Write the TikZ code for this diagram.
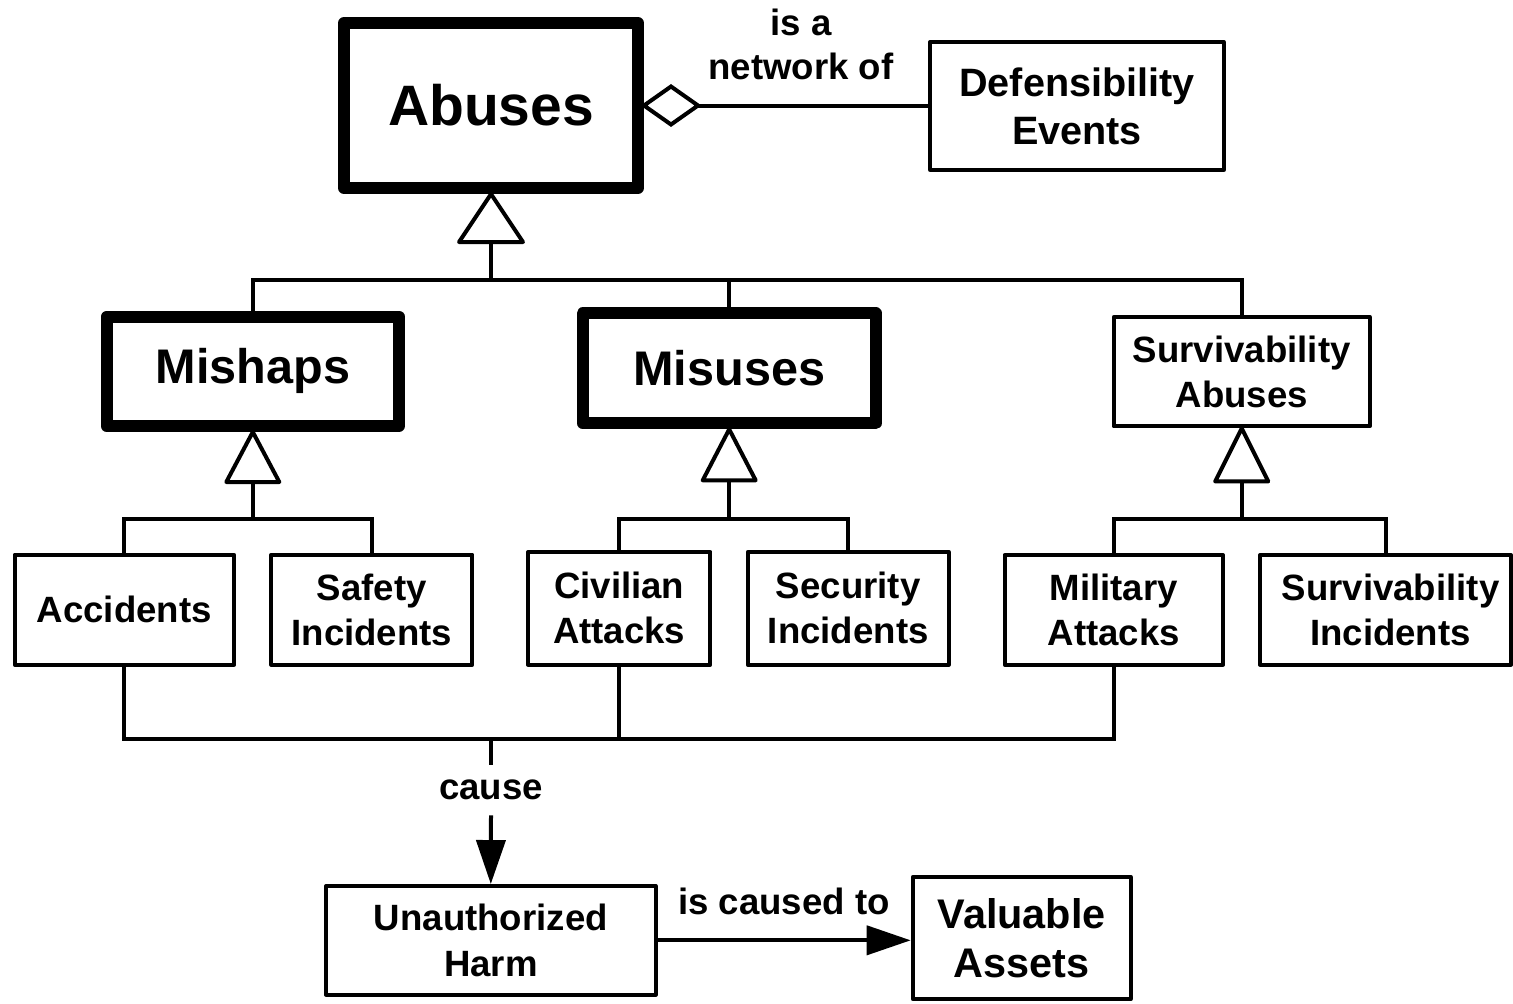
\documentclass[tikz,border=0pt]{standalone}
\usepackage{fontspec}
\setmainfont{Liberation Sans}
\usetikzlibrary{arrows.meta,calc}
\begin{document}
\begin{tikzpicture}[x=0.5pt,y=-0.5pt,
  line width=2pt,
  box/.style={draw, line width=2pt, line join=round, inner sep=0pt, align=center},
  heavy/.style={box, line width=6pt},
  fsmall/.style={font=\bfseries\fontsize{18.3}{22.5}\selectfont},
  fdef/.style={font=\bfseries\fontsize{19.8}{24}\selectfont},
  fharm/.style={font=\bfseries\fontsize{18.3}{22.8}\selectfont},
  fval/.style={font=\bfseries\fontsize{20.7}{24.5}\selectfont},
  fmid/.style={font=\bfseries\fontsize{24.3}{28}\selectfont},
  fbig/.style={font=\bfseries\fontsize{28.5}{34}\selectfont},
  label/.style={inner sep=0pt, align=center, font=\bfseries\fontsize{18.3}{22}\selectfont},
  gen/.style={draw, line width=2pt, line join=round, fill=white},
  agg/.style={draw, line width=2pt, line join=miter, fill=white},
  flow/.style={line width=2pt, -{Triangle[length=22pt,width=14.5pt]}},
  bus/.style={line width=2pt, line join=miter}
]
\useasboundingbox (0,0) rectangle (1513,1003);

% boxes
\node[heavy, fbig, minimum width=147pt, minimum height=82.5pt] (abuses) at (491,105.5) {Abuses};
\node[box, fdef, minimum width=146.8pt, minimum height=63.8pt] (def) at (1077,106) {Defensibility\\Events};
\node[heavy, fmid, minimum width=146.2pt, minimum height=54.7pt] (mishaps) at (252.8,371.3) {Mishaps};
\node[heavy, fmid, minimum width=146.5pt, minimum height=55pt] (misuses) at (729.2,368.3) {Misuses};
\node[box, fsmall, minimum width=128pt, minimum height=54.7pt] (survab) at (1241.7,371.7) {Survivability\\Abuses};
\node[box, fsmall, minimum width=109.7pt, minimum height=55pt] (acc) at (124.3,609.7) {Accidents};
\node[box, fsmall, minimum width=100.5pt, minimum height=55pt] (safety) at (371.8,609.7) {Safety\\Incidents};
\node[box, fsmall, minimum width=91.2pt, minimum height=56.3pt] (civ) at (619.2,608.3) {Civilian\\Attacks};
\node[box, fsmall, minimum width=100.5pt, minimum height=56.3pt] (sec) at (848.2,608.3) {Security\\Incidents};
\node[box, fsmall, minimum width=109.2pt, minimum height=54.8pt] (mil) at (1113.8,609.8) {Military\\Attacks};
\node[box, fsmall, minimum width=125.5pt, minimum height=54.8pt] (survinc) at (1385.5,609.8) {\hspace*{5pt}Survivability\\\hspace*{5pt}Incidents};
\node[box, fharm, minimum width=164.8pt, minimum height=54.3pt] (harm) at (490.8,940.3) {Unauthorized\\Harm};
\node[box, fval, minimum width=109pt, minimum height=61pt] (assets) at (1021.7,938) {Valuable\\Assets};

% labels
\node[label] (netof) at (801,44) {is a\\network of};
\node[label, minimum height=23.35pt] (cause) at (491,790) {cause};
\node[label] (causedto) at (784,901) {is caused to};

% aggregation: Abuses is a network of Defensibility Events
\draw[agg] (abuses.east) -- ++(27,-19) -- ++(27,19) -- ++(-27,19) -- cycle;
\coordinate (dtip) at ($(abuses.east)+(54,0)$);
\draw (dtip) -- (dtip -| def.west);

% generalization of Abuses
\coordinate (gA) at ($(abuses.south)+(0,48)$);
\draw[gen] (abuses.south) -- ++(-32,48) -- ++(64,0) -- cycle;
\coordinate (busA) at (491,280);
\draw (gA) -- (busA);
\draw[bus] (mishaps.north) |- (busA) -| (survab.north);
\draw (misuses.north) -- (misuses.north |- busA);

% generalization of Mishaps
\coordinate (gM) at ($(mishaps.south)+(0,50)$);
\draw[gen] (mishaps.south) -- ++(-26.5,50) -- ++(53,0) -- cycle;
\coordinate (busM) at ($(gM |- 0,519)$);
\draw (gM) -- (busM);
\draw[bus] (acc.north) |- (busM) -| (safety.north);

% generalization of Misuses
\coordinate (gU) at ($(misuses.south)+(0,51)$);
\draw[gen] (misuses.south) -- ++(-26.5,51) -- ++(53,0) -- cycle;
\coordinate (busU) at ($(gU |- 0,519)$);
\draw (gU) -- (busU);
\draw[bus] (civ.north) |- (busU) -| (sec.north);

% generalization of Survivability Abuses
\coordinate (gS) at ($(survab.south)+(0,53)$);
\draw[gen] (survab.south) -- ++(-26.5,53) -- ++(53,0) -- cycle;
\coordinate (busS) at ($(gS |- 0,519)$);
\draw (gS) -- (busS);
\draw[bus] (mil.north) |- (busS) -| (survinc.north);

% abuses cause unauthorized harm
\coordinate (busB) at (491,738.5);
\draw[bus] (acc.south) |- (busB) -| (mil.south);
\draw (civ.south) -- (civ.south |- busB);
\draw (busB) -- (cause.north);
\draw[flow] (cause.south) -- (harm.north);

% harm is caused to valuable assets
\draw[flow] (harm.east) -- (harm.east -| assets.west);
\end{tikzpicture}
\end{document}
